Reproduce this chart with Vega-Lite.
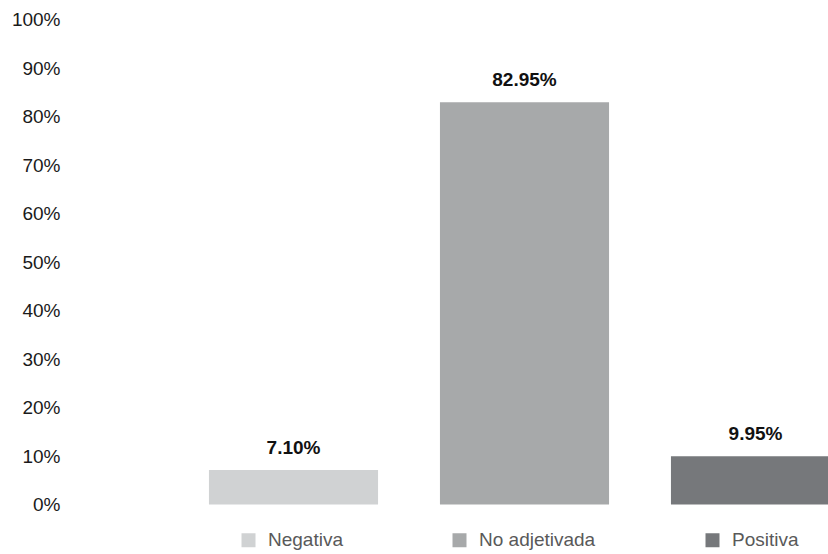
{
  "$schema": "https://vega.github.io/schema/vega-lite/v6.json",
  "autosize": {"type": "none"},
  "padding": {"left": 178, "top": 19.5, "right": -43, "bottom": 49.5},
  "width": 693,
  "height": 485,
  "background": "white",
  "config": {
    "view": {"stroke": null},
    "font": "Liberation Sans"
  },
  "data": {
    "values": [
      {"categoria": "Negativa", "valor": 0.071},
      {"categoria": "No adjetivada", "valor": 0.8295},
      {"categoria": "Positiva", "valor": 0.0995}
    ]
  },
  "encoding": {
    "x": {
      "field": "categoria",
      "type": "nominal",
      "sort": null,
      "scale": {"paddingInner": 0.268, "paddingOuter": 0.134},
      "axis": null
    },
    "y": {
      "field": "valor",
      "type": "quantitative",
      "scale": {"domain": [0, 1], "nice": false},
      "axis": {
        "title": null,
        "format": ".0%",
        "values": [0, 0.1, 0.2, 0.3, 0.4, 0.5, 0.6, 0.7, 0.8, 0.9, 1],
        "grid": false,
        "domain": false,
        "ticks": false,
        "labelPadding": 118,
        "labelFont": "Liberation Sans",
        "labelFontSize": 19,
        "labelColor": "#1a1a1a"
      }
    }
  },
  "layer": [
    {
      "mark": {"type": "bar"},
      "encoding": {
        "color": {
          "field": "categoria",
          "type": "nominal",
          "sort": null,
          "scale": {
            "domain": ["Negativa", "No adjetivada", "Positiva"],
            "range": ["#d0d2d3", "#a7a9aa", "#76787b"]
          },
          "legend": {
            "title": null,
            "orient": "none",
            "legendX": 61,
            "legendY": 511,
            "direction": "horizontal",
            "symbolType": "square",
            "symbolSize": 196,
            "symbolStrokeWidth": 0,
            "labelFont": "Liberation Sans",
            "labelFontSize": 19,
            "labelColor": "#595959",
            "labelOffset": 10,
            "columnPadding": 107,
            "labelLimit": 300
          }
        }
      }
    },
    {
      "mark": {
        "type": "text",
        "baseline": "alphabetic",
        "dy": -16,
        "fontWeight": "bold",
        "fontSize": 19,
        "font": "Liberation Sans",
        "color": "#111111"
      },
      "encoding": {
        "text": {"field": "valor", "type": "quantitative", "format": ".2%"}
      }
    }
  ]
}
